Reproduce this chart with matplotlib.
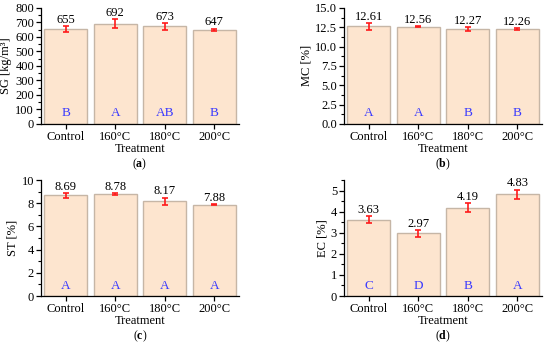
import numpy as np
import matplotlib.pyplot as plt
from matplotlib.ticker import MultipleLocator
from matplotlib.transforms import blended_transform_factory

plt.rcParams['font.family'] = ['Liberation Serif', 'DejaVu Serif']
plt.rcParams['font.size'] = 9
plt.rcParams['mathtext.fontset'] = 'custom'
plt.rcParams['mathtext.rm'] = 'Liberation Serif'
plt.rcParams['mathtext.bf'] = 'Liberation Serif:bold'

# ---- data ----
treatments = ["Control", "160°C", "180°C", "200°C"]

sg_mean = [655, 692, 673, 647]
sg_err = [20, 32, 22, 9]
sg_group = ["B", "A", "AB", "B"]

mc_mean = [12.61, 12.56, 12.27, 12.26]
mc_err = [0.42, 0.08, 0.22, 0.08]
mc_group = ["A", "A", "B", "B"]

st_mean = [8.69, 8.78, 8.17, 7.88]
st_err = [0.2, 0.1, 0.32, 0.05]
st_group = ["A", "A", "A", "A"]

ec_mean = [3.63, 2.97, 4.19, 4.83]
ec_err = [0.15, 0.16, 0.22, 0.22]
ec_group = ["C", "D", "B", "A"]

BAR = "#fde5cf"
EDGE = "#c6b6a6"
ERR = "#ff1a1a"
LETTER = "#3a3aff"

fig = plt.figure(figsize=(5.5, 3.45), dpi=100)

W, H = 0.36, 0.336
panels = [
    # left, bottom, mean, err, group, ylabel, ylim, major, minor, fmt, tag
    (0.0745, 0.641, sg_mean, sg_err, sg_group, "SG [kg/m³]", (0, 800), 100, 50, "{:.0f}", "a"),
    (0.6255, 0.641, mc_mean, mc_err, mc_group, "MC [%]", (0, 15), 2.5, 1.25, "{:.2f}", "b"),
    (0.0745, 0.142, st_mean, st_err, st_group, "ST [%]", (0, 10), 2, 1, "{:.2f}", "c"),
    (0.6255, 0.142, ec_mean, ec_err, ec_group, "EC [%]", (0, 5.5), 1, 0.5, "{:.2f}", "d"),
]

x = np.arange(len(treatments))
for left, bottom, mean, err, group, ylabel, ylim, major, minor, fmt, tag in panels:
    ax = fig.add_axes([left, bottom, W, H])
    ax.bar(x, mean, width=0.86, color=BAR, edgecolor=EDGE, linewidth=1.0, zorder=2)
    ax.errorbar(x, mean, yerr=err, fmt="none", ecolor=ERR, elinewidth=1.2,
                capsize=2.5, capthick=1.2, zorder=3)
    for xi, m, e in zip(x, mean, err):
        ax.annotate(fmt.format(m), (xi, m + e), xytext=(0, 0.3),
                    textcoords="offset points", ha="center", va="bottom")
    tr = blended_transform_factory(ax.transData, ax.transAxes)
    for xi, g in zip(x, group):
        ax.text(xi, 0.09, g, transform=tr, ha="center", va="center",
                color=LETTER, fontsize=9.5)
    ax.set_xlim(-0.5, 3.5)
    ax.set_ylim(*ylim)
    ax.yaxis.set_major_locator(MultipleLocator(major))
    ax.yaxis.set_minor_locator(MultipleLocator(minor))
    if major == 2.5:
        ax.yaxis.set_major_formatter(plt.FormatStrFormatter("%.1f"))
    ax.set_xticks(x)
    ax.set_xticklabels(treatments)
    ax.tick_params(axis="both", direction="out", length=3.5, width=0.9, pad=1.5)
    ax.tick_params(axis="y", which="minor", direction="out", length=2, width=0.8)
    for s in ("top", "right"):
        ax.spines[s].set_visible(False)
    for s in ("left", "bottom"):
        ax.spines[s].set_linewidth(0.9)
    ax.set_ylabel(ylabel, labelpad=2)
    ax.set_xlabel("Treatment", labelpad=0)
    ax.text(0.5, -0.345, "($\\mathbf{" + tag + "}$)", transform=ax.transAxes,
            ha="center", va="center", fontsize=8.5)

fig.savefig("out.png", dpi=100)
